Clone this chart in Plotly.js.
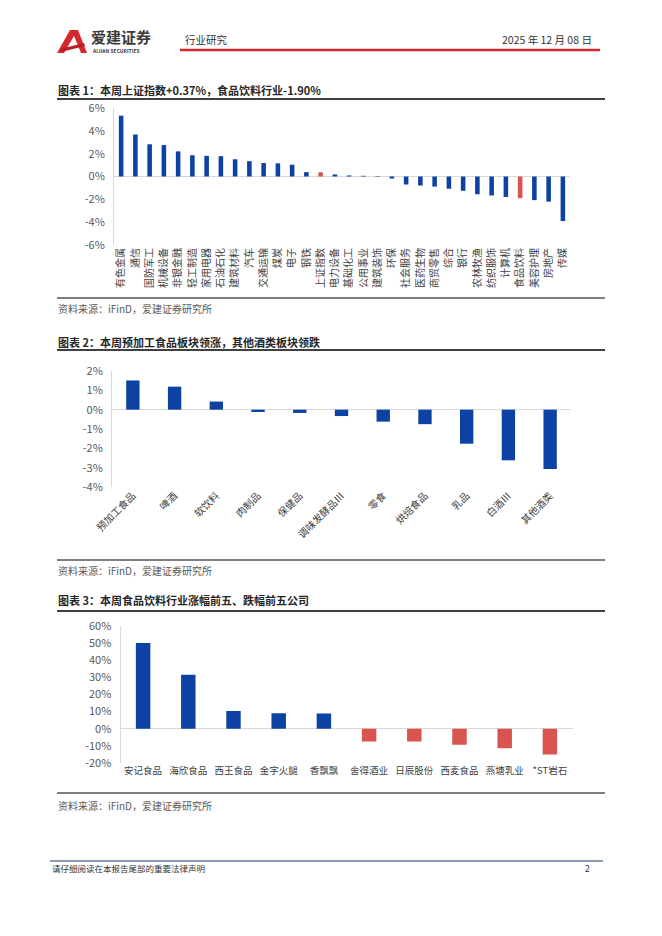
<!DOCTYPE html>
<html>
<head>
<meta charset="utf-8">
<script src="https://cdn.plot.ly/plotly-3.0.1.min.js"></script>
<style>
  html, body { margin: 0; padding: 0; background: #ffffff; }
  #chart { width: 662px; height: 936px; }
</style>
</head>
<body>
<div id="chart"></div>
<script>
// ---------- DATA ----------
const c1Categories = ['有色金属','通信','国防军工','机械设备','非银金融','轻工制造','家用电器','石油石化','建筑材料','汽车','交通运输','煤炭','电子','钢铁','上证指数','电力设备','基础化工','公用事业','建筑装饰','环保','社会服务','医药生物','商贸零售','综合','银行','农林牧渔','纺织服饰','计算机','食品饮料','美容护理','房地产','传媒'];
const c1Values = [5.33, 3.68, 2.82, 2.75, 2.20, 1.86, 1.81, 1.78, 1.51, 1.34, 1.18, 1.15, 1.03, 0.38, 0.37, 0.18, 0.09, 0.06, -0.04, -0.18, -0.70, -0.79, -0.88, -1.07, -1.25, -1.55, -1.66, -1.79, -1.90, -2.07, -2.20, -3.90];
const c1Highlight = ['上证指数','食品饮料'];
const c1TickVals = [-6, -4, -2, 0, 2, 4, 6];

const c2Categories = ['预加工食品','啤酒','软饮料','肉制品','保健品','调味发酵品Ⅲ','零食','烘焙食品','乳品','白酒Ⅲ','其他酒类'];
const c2Values = [1.51, 1.19, 0.42, -0.12, -0.17, -0.33, -0.62, -0.75, -1.76, -2.62, -3.07];
const c2TickVals = [-4, -3, -2, -1, 0, 1, 2];

const c3Categories = ['安记食品','海欣食品','西王食品','金字火腿','香飘飘','舍得酒业','日辰股份','西麦食品','燕塘乳业','*ST岩石'];
const c3Values = [50.1, 31.6, 10.4, 9.1, 8.9, -7.4, -7.4, -9.4, -11.4, -15.0];
const c3TickVals = [-20, -10, 0, 10, 20, 30, 40, 50, 60];

const titles = [
  '图表 1：本周上证指数+0.37%，食品饮料行业-1.90%',
  '图表 2：本周预加工食品板块领涨，其他酒类板块领跌',
  '图表 3：本周食品饮料行业涨幅前五、跌幅前五公司'
];
const sourceText = '资料来源：iFinD，爱建证券研究所';

// ---------- STYLE ----------
const W = 662, H = 936;
const X = px => px / W;
const Y = py => 1 - py / H;
const BLUE = '#0B42A3';
const RED = '#D9534F';
const FONT = '"Noto Sans CJK SC", "Noto Sans", sans-serif';
const pct = v => v + '%';

const traces = [
  { type: 'bar', x: c1Categories, y: c1Values, xaxis: 'x', yaxis: 'y',
    marker: { color: c1Categories.map(c => c1Highlight.includes(c) ? RED : BLUE) },
    hoverinfo: 'x+y' },
  { type: 'bar', x: c2Categories, y: c2Values, xaxis: 'x2', yaxis: 'y2',
    marker: { color: BLUE }, hoverinfo: 'x+y' },
  { type: 'bar', x: c3Categories, y: c3Values, xaxis: 'x3', yaxis: 'y3',
    marker: { color: c3Values.map(v => v >= 0 ? BLUE : RED) }, hoverinfo: 'x+y' }
];

const yCommon = {
  showgrid: false, zeroline: true, zerolinecolor: '#D9D9D9', zerolinewidth: 1,
  showline: true, linecolor: '#D9D9D9', linewidth: 1,
  tickfont: { size: 11, color: '#595959', family: FONT },
  ticks: '', ticklabelstandoff: 6, fixedrange: true, automargin: false
};
const xCommon = {
  type: 'category', showgrid: false, zeroline: false, showline: false, ticks: '',
  fixedrange: true, automargin: false
};

const line = (x0, y0, x1, y1, color, width) => ({
  type: 'line', xref: 'paper', yref: 'paper',
  x0: X(x0), y0: Y(y0), x1: X(x1), y1: Y(y1),
  line: { color: color, width: width }
});
const text = (str, x, y, size, color, anchor, extra) => Object.assign({
  text: str, xref: 'paper', yref: 'paper', x: X(x), y: Y(y),
  xanchor: anchor || 'left', yanchor: 'middle', showarrow: false,
  font: { family: FONT, size: size, color: color }
}, extra || {});

// logo path in page pixels -> paper coords
const logoPts = [[57,53],[70,30],[78,30],[87,53],[81,53],[74,36],[64,53]];
const logoPath = 'M ' + logoPts.map(p => X(p[0]) + ',' + Y(p[1])).join(' L ') + ' Z';
const swooshPts = [[60,49],[84,43],[85,46],[61,52]];
const swooshPath = 'M ' + swooshPts.map(p => X(p[0]) + ',' + Y(p[1])).join(' L ') + ' Z';

const layout = {
  width: W, height: H,
  margin: { l: 0, r: 0, t: 0, b: 0 },
  paper_bgcolor: '#ffffff', plot_bgcolor: 'rgba(0,0,0,0)',
  showlegend: false, bargap: 0.68,
  font: { family: FONT },
  xaxis: Object.assign({}, xCommon, {
    domain: [X(114), X(570)], anchor: 'y', tickangle: -90,
    tickfont: { size: 10, color: '#404040', family: FONT }
  }),
  yaxis: Object.assign({}, yCommon, {
    domain: [Y(245), Y(108)], anchor: 'x', range: [-6, 6],
    tickvals: c1TickVals, ticktext: c1TickVals.map(pct)
  }),
  xaxis2: Object.assign({}, xCommon, {
    domain: [X(112), X(571)], anchor: 'y2', tickangle: -45,
    tickfont: { size: 10, color: '#404040', family: FONT }
  }),
  yaxis2: Object.assign({}, yCommon, {
    domain: [Y(487), Y(371)], anchor: 'x2', range: [-4, 2],
    tickvals: c2TickVals, ticktext: c2TickVals.map(pct)
  }),
  xaxis3: Object.assign({}, xCommon, {
    domain: [X(120.5), X(572.5)], anchor: 'y3', tickangle: 0,
    tickfont: { size: 9.5, color: '#404040', family: FONT }
  }),
  yaxis3: Object.assign({}, yCommon, {
    domain: [Y(763), Y(626)], anchor: 'x3', range: [-20, 60],
    tickvals: c3TickVals, ticktext: c3TickVals.map(pct)
  }),
  shapes: [
    // header
    { type: 'path', xref: 'paper', yref: 'paper', path: logoPath, fillcolor: '#D7282F', line: { width: 0 } },
    { type: 'path', xref: 'paper', yref: 'paper', path: swooshPath, fillcolor: '#B51F25', line: { width: 0 } },
    line(180, 50, 600, 50, '#D7282F', 2.5),
    // chart 1
    line(57, 99, 605, 99, '#000000', 1.5),
    line(57, 298, 605, 298, '#000000', 1.2),
    // chart 2
    line(57, 350, 605, 350, '#000000', 1.5),
    line(57, 560, 605, 560, '#000000', 1.2),
    // chart 3
    line(57, 611, 605, 611, '#000000', 1.5),
    line(57, 793, 605, 793, '#000000', 1.2),
    // footer
    line(50, 861, 603, 861, '#1F3864', 1)
  ],
  annotations: [
    text('<b>爱建证券</b>', 89, 36.5, 15, '#3A3A3A'),
    text('<b>AIJIAN SECURITIES</b>', 90, 50.5, 5, '#3A3A3A'),
    text('行业研究', 183, 40, 10.5, '#333333'),
    text('2025 年 12 月 08 日', 594, 40, 10.5, '#333333', 'right'),
    text('<b>' + titles[0] + '</b>', 56, 90, 11, '#262626'),
    text(sourceText, 56, 309, 10, '#595959'),
    text('<b>' + titles[1] + '</b>', 56, 342, 11, '#262626'),
    text(sourceText, 56, 570, 10, '#595959'),
    text('<b>' + titles[2] + '</b>', 56, 600, 11, '#262626'),
    text(sourceText, 56, 805, 10, '#595959'),
    text('请仔细阅读在本报告尾部的重要法律声明', 50, 868, 8.5, '#333333'),
    text('2', 592, 868, 8.5, '#333333', 'right')
  ]
};

Plotly.newPlot('chart', traces, layout, { staticPlot: true, displayModeBar: false });
</script>
</body>
</html>
